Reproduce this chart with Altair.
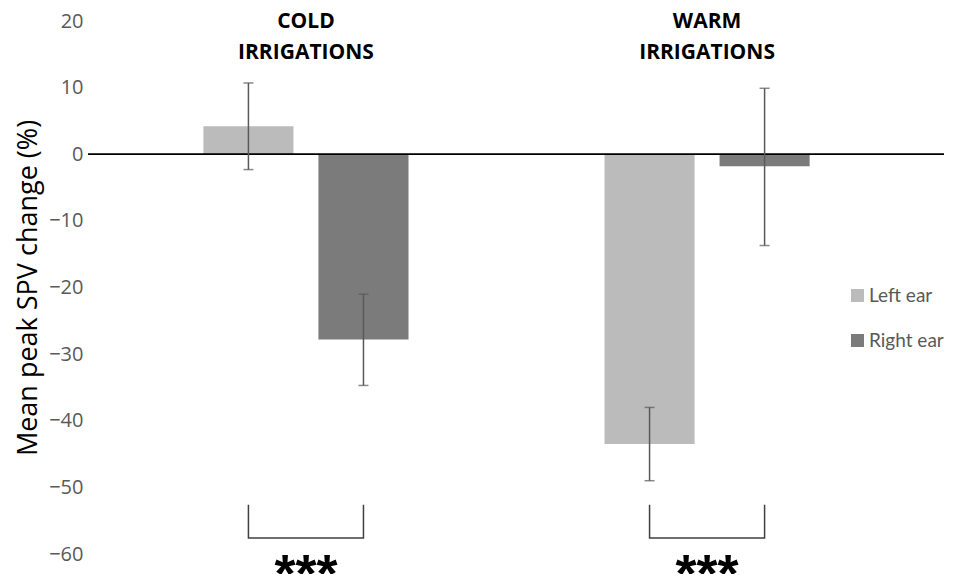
import altair as alt
import pandas as pd

# ---- data ----
group_order = ["Cold", "Warm"]
header_labels = ["COLD\nIRRIGATIONS", "WARM\nIRRIGATIONS"]
ear_order = ["Left ear", "Right ear"]

group_col = ["Cold", "Cold", "Warm", "Warm"]
ear_col = ["Left ear", "Right ear", "Left ear", "Right ear"]
mean_vals = [4.2, -27.8, -43.5, -1.8]
err_low = [-2.3, -34.7, -49.0, -13.7]
err_high = [10.7, -21.0, -38.0, 9.9]

sig_labels = ["***", "***"]
bracket_top = -52.6
bracket_bottom = -57.6

y_ticks = [-60, -50, -40, -30, -20, -10, 0, 10, 20]
y_title = "Mean peak SPV change (%)"

bar_colors = ["#BBBBBB", "#7B7B7B"]

# ---- tables ----
df = pd.DataFrame({"group": group_col, "ear": ear_col, "mean": mean_vals,
                   "lo": err_low, "hi": err_high})
hdr = pd.DataFrame({"group": group_order, "label": header_labels, "sig": sig_labels})
br_rows = []
for g in group_order:
    br_rows += [
        {"group": g, "ear": ear_order[0], "y": bracket_top, "o": 0},
        {"group": g, "ear": ear_order[0], "y": bracket_bottom, "o": 1},
        {"group": g, "ear": ear_order[1], "y": bracket_bottom, "o": 2},
        {"group": g, "ear": ear_order[1], "y": bracket_top, "o": 3},
    ]
br = pd.DataFrame(br_rows)

FONT = "Open Sans"

x_enc = alt.X("group:N", sort=group_order, axis=None,
              scale=alt.Scale(domain=group_order, paddingInner=0.4,
                              paddingOuter=0.267, align=0.4557))
xoff_enc = alt.XOffset("ear:N", sort=ear_order,
                       scale=alt.Scale(domain=ear_order, paddingInner=0.217,
                                       paddingOuter=0.1546))
y_scale = alt.Scale(domain=[-60, 20], nice=False)
y_axis = alt.Axis(values=y_ticks, title=y_title)


def Y(field):
    return alt.Y(field, scale=y_scale, axis=y_axis, title=y_title)


bars = alt.Chart(df).mark_bar().encode(
    x=x_enc, xOffset=xoff_enc,
    y=Y("mean:Q"),
    color=alt.Color("ear:N", sort=ear_order,
                    scale=alt.Scale(domain=ear_order, range=bar_colors),
                    legend=alt.Legend(title=None, orient="none", legendX=760,
                                      legendY=265, symbolType="square",
                                      symbolSize=169, symbolStrokeWidth=0,
                                      labelFont="Lato", labelFontSize=19,
                                      labelColor="#595959", rowPadding=25,
                                      labelOffset=2, padding=0)),
)

zero = alt.Chart(hdr).mark_rule(color="#000000", strokeWidth=1.3).encode(
    y=alt.datum(0, scale=y_scale, axis=y_axis, title=y_title)
)

err = alt.Chart(df).mark_rule(color="#595959", strokeWidth=1.5).encode(
    x=x_enc, xOffset=xoff_enc,
    y=Y("lo:Q"), y2="hi:Q"
)

caps = alt.Chart(df).transform_fold(["lo", "hi"], as_=["k", "v"]).mark_tick(
    color="#595959", thickness=1.5, size=10
).encode(
    x=x_enc, xOffset=xoff_enc,
    y=Y("v:Q")
)

brackets = alt.Chart(br).mark_line(color="#404040", strokeWidth=1.5).encode(
    x=x_enc, xOffset=xoff_enc,
    y=Y("y:Q"),
    order="o:Q", detail="group:N"
)

headers = alt.Chart(hdr).mark_text(
    font=FONT, fontSize=21, fontWeight="bold", color="#000000",
    lineBreak="\n", lineHeight=31, baseline="alphabetic", dy=7
).encode(x=x_enc, y=alt.datum(20, scale=y_scale, axis=y_axis, title=y_title),
         text="label:N")

stars = alt.Chart(hdr).mark_text(
    font="Liberation Sans", fontSize=54, fontWeight="bold", color="#000000",
    baseline="alphabetic", dy=38
).encode(x=x_enc, y=alt.datum(-60, scale=y_scale, axis=y_axis, title=y_title),
         text="sig:N")

chart = alt.layer(bars, zero, err, caps, brackets, headers, stars).properties(
    width=856, height=533,
    autosize=alt.AutoSizeParams(type="none"),
    padding={"left": 80, "top": 13, "right": 6, "bottom": 20},
    background="white",
).configure_view(stroke=None).configure_axisY(
    domain=False, ticks=False, tickSize=0, grid=False,
    labelFont=FONT, labelFontSize=20, labelColor="#595959",
    labelPadding=5, titleFont=FONT, titleFontSize=27,
    titleFontWeight="normal", titleColor="#000000", titlePadding=6,
)

chart.save("out.html", embed_options={"renderer": "svg", "actions": False})
